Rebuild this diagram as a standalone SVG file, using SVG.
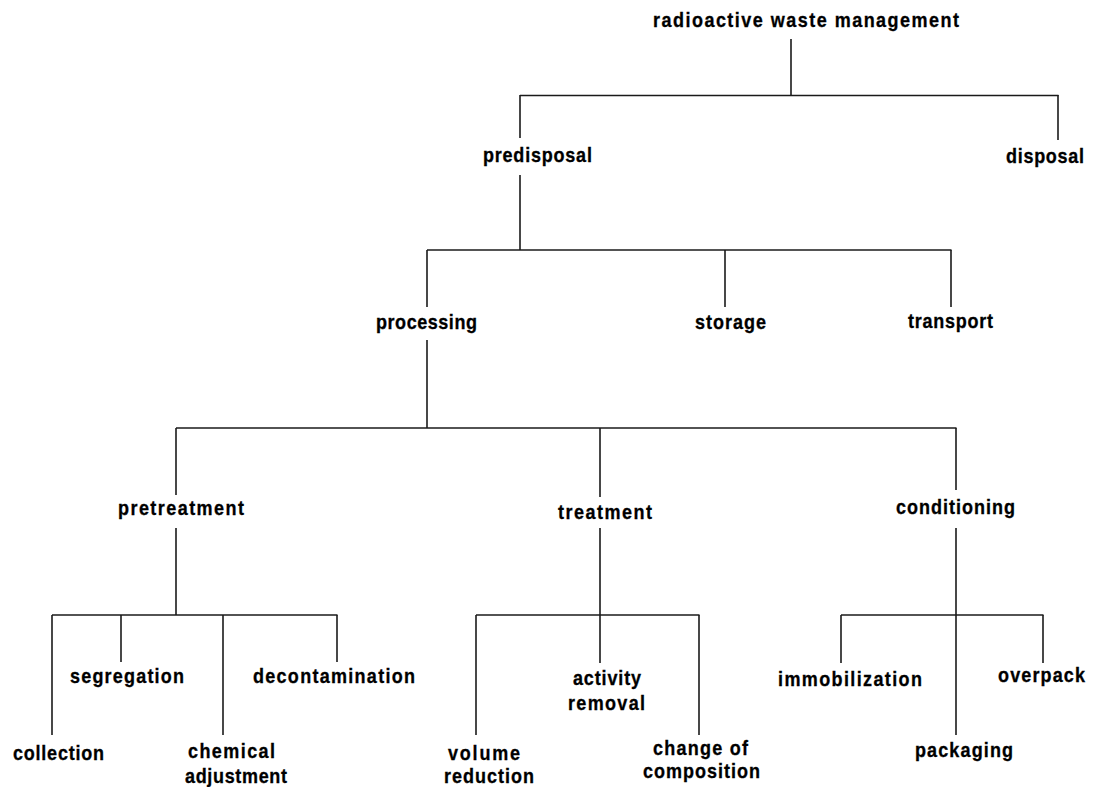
<svg xmlns="http://www.w3.org/2000/svg" width="1094" height="787" viewBox="0 0 1094 787">
<style>
text{font-family:"Liberation Sans",Arial,sans-serif;font-weight:bold;font-size:20px;fill:#000;stroke:#000;stroke-width:0.3;transform-box:fill-box;transform-origin:0 0;transform:scaleX(.9)}
.c line{stroke:#1a1a1a;stroke-width:1.6;fill:none}
</style>
<rect width="1094" height="787" fill="#fff"/>
<g class="c" id="connectors">
<line x1="791" y1="39" x2="791" y2="96"/>
<line x1="520" y1="95.5" x2="1058.5" y2="95.5"/>
<line x1="520" y1="95" x2="520" y2="138"/>
<line x1="1058" y1="95" x2="1058" y2="140"/>
<line x1="520" y1="175" x2="520" y2="250"/>
<line x1="427" y1="250" x2="951.5" y2="250"/>
<line x1="427" y1="250" x2="427" y2="307"/>
<line x1="725" y1="250" x2="725" y2="307"/>
<line x1="951" y1="250" x2="951" y2="307"/>
<line x1="427" y1="340" x2="427" y2="428"/>
<line x1="176" y1="428" x2="956.5" y2="428"/>
<line x1="176" y1="428" x2="176" y2="495"/>
<line x1="600" y1="428" x2="600" y2="497"/>
<line x1="956" y1="428" x2="956" y2="490"/>
<line x1="176" y1="528" x2="176" y2="615"/>
<line x1="600" y1="528" x2="600" y2="663"/>
<line x1="956" y1="528" x2="956" y2="735"/>
<line x1="52" y1="615" x2="337.5" y2="615"/>
<line x1="52" y1="615" x2="52" y2="735"/>
<line x1="121" y1="615" x2="121" y2="662"/>
<line x1="223" y1="615" x2="223" y2="735"/>
<line x1="337" y1="615" x2="337" y2="662"/>
<line x1="476" y1="615" x2="699.5" y2="615"/>
<line x1="476" y1="615" x2="476" y2="735"/>
<line x1="699" y1="615" x2="699" y2="735"/>
<line x1="841" y1="615" x2="1043.5" y2="615"/>
<line x1="841" y1="615" x2="841" y2="663"/>
<line x1="1043" y1="615" x2="1043" y2="663"/>
</g>
<g id="n-root"><text x="653" y="27" textLength="340">radioactive waste management</text></g>
<g id="n-predisposal"><text x="483" y="162" textLength="121">predisposal</text></g>
<g id="n-disposal"><text x="1006" y="163" textLength="86.7">disposal</text></g>
<g id="n-processing"><text x="376" y="329" textLength="112.2">processing</text></g>
<g id="n-storage"><text x="695" y="329" textLength="78.9">storage</text></g>
<g id="n-transport"><text x="908" y="328" textLength="94.4">transport</text></g>
<g id="n-pretreatment"><text x="118" y="515" textLength="140">pretreatment</text></g>
<g id="n-treatment"><text x="558" y="519" textLength="104.4">treatment</text></g>
<g id="n-conditioning"><text x="896" y="514" textLength="132.2">conditioning</text></g>
<g id="n-collection"><text x="13" y="760" textLength="101.1">collection</text></g>
<g id="n-segregation"><text x="70" y="683" textLength="126.7">segregation</text></g>
<g id="n-chemical"><text x="188" y="758" textLength="96.7">chemical</text><text x="185" y="783" textLength="113.3">adjustment</text></g>
<g id="n-decontamination"><text x="253" y="683" textLength="180">decontamination</text></g>
<g id="n-volume"><text x="448" y="760" textLength="80">volume</text><text x="444" y="783" textLength="100">reduction</text></g>
<g id="n-activity"><text x="573" y="685" textLength="75.6">activity</text><text x="568" y="710" textLength="85.6">removal</text></g>
<g id="n-change"><text x="653" y="755" textLength="105.6">change of</text><text x="643" y="778" textLength="130">composition</text></g>
<g id="n-immobilization"><text x="778" y="686" textLength="160">immobilization</text></g>
<g id="n-packaging"><text x="915" y="757" textLength="108.9">packaging</text></g>
<g id="n-overpack"><text x="998" y="682" textLength="96.7">overpack</text></g>
</svg>
